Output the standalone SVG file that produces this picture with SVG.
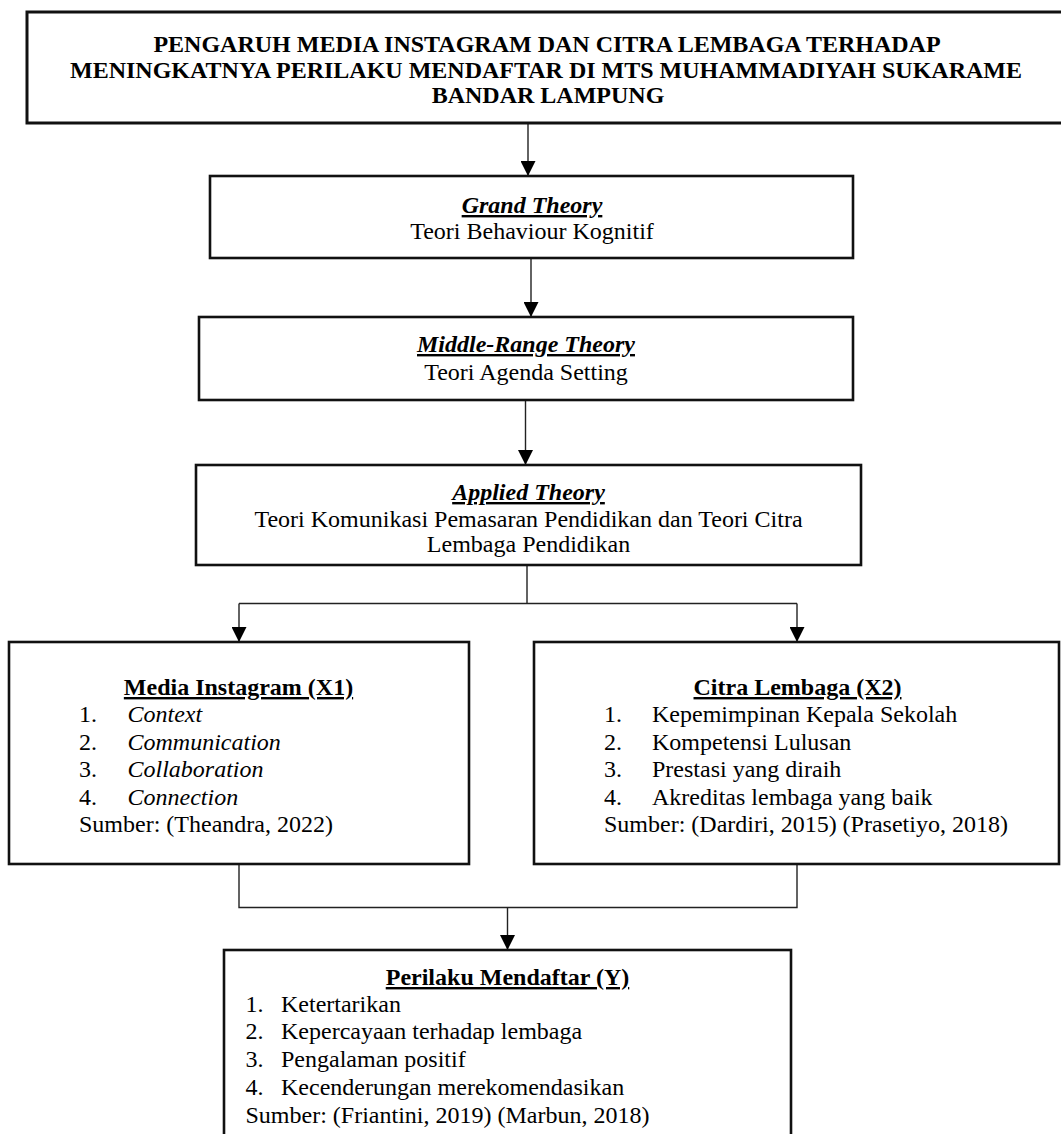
<svg xmlns="http://www.w3.org/2000/svg" width="1061" height="1134" viewBox="0 0 1061 1134">
<style>
.box{fill:#fff;stroke:#111;stroke-width:2.6}
.conn{fill:none;stroke:#222;stroke-width:1.4}
text{font-family:"Liberation Serif","Times New Roman",serif;font-size:24px;fill:#000}
.title{font-weight:bold;text-anchor:middle}
.head{font-weight:bold;font-style:italic;text-decoration:underline;text-anchor:middle}
.vhead{font-weight:bold;text-decoration:underline;text-anchor:middle}
.mid{text-anchor:middle}
.it{font-style:italic}
</style>
<defs>
<marker id="arr" markerUnits="userSpaceOnUse" markerWidth="15" markerHeight="15" refX="15" refY="7.5" orient="auto">
<path d="M0,0 L15,7.5 L0,15 z" fill="#000"/>
</marker>
</defs>
<rect width="1061" height="1134" fill="#fff"/>
<g id="connectors">
<path class="conn" d="M528,123 V176" marker-end="url(#arr)"/>
<path class="conn" d="M531,258 V317" marker-end="url(#arr)"/>
<path class="conn" d="M525.5,400 V465" marker-end="url(#arr)"/>
<path class="conn" d="M527,565 V603.5 M239,603.5 H797"/>
<path class="conn" d="M239,603.5 V642" marker-end="url(#arr)"/>
<path class="conn" d="M797,603.5 V642" marker-end="url(#arr)"/>
<path class="conn" d="M239,864 V907.5 H797 V864"/>
<path class="conn" d="M507.5,907.5 V950" marker-end="url(#arr)"/>
</g>
<g id="node-title">
<rect class="box" x="27" y="12" width="1045" height="111" style="stroke-width:3"/>
<text class="title" x="547" y="52">PENGARUH MEDIA INSTAGRAM DAN CITRA LEMBAGA TERHADAP</text>
<text class="title" x="546" y="77.5">MENINGKATNYA PERILAKU MENDAFTAR DI MTS MUHAMMADIYAH SUKARAME</text>
<text class="title" x="548" y="103">BANDAR LAMPUNG</text>
</g>
<g id="node-grand">
<rect class="box" x="210" y="176" width="643" height="82"/>
<text class="head" x="532" y="213">Grand Theory</text>
<text class="mid" x="532" y="239">Teori Behaviour Kognitif</text>
</g>
<g id="node-middle">
<rect class="box" x="199" y="317" width="654" height="83"/>
<text class="head" x="526" y="352">Middle-Range Theory</text>
<text class="mid" x="526" y="380">Teori Agenda Setting</text>
</g>
<g id="node-applied">
<rect class="box" x="196" y="465" width="665" height="100"/>
<text class="head" x="528.5" y="500">Applied Theory</text>
<text class="mid" x="528.5" y="526.5">Teori Komunikasi Pemasaran Pendidikan dan Teori Citra</text>
<text class="mid" x="528.5" y="552">Lembaga Pendidikan</text>
</g>
<g id="node-x1">
<rect class="box" x="9" y="642" width="460" height="222"/>
<text class="vhead" x="238.5" y="695">Media Instagram (X1)</text>
<text x="79" y="722">1.</text><text class="it" x="127.5" y="722">Context</text>
<text x="79" y="749.5">2.</text><text class="it" x="127.5" y="749.5">Communication</text>
<text x="79" y="777">3.</text><text class="it" x="127.5" y="777">Collaboration</text>
<text x="79" y="804.5">4.</text><text class="it" x="127.5" y="804.5">Connection</text>
<text x="79" y="832">Sumber: (Theandra, 2022)</text>
</g>
<g id="node-x2">
<rect class="box" x="534" y="642" width="525" height="222"/>
<text class="vhead" x="797.5" y="695">Citra Lembaga (X2)</text>
<text x="604" y="722">1.</text><text x="652" y="722">Kepemimpinan Kepala Sekolah</text>
<text x="604" y="749.5">2.</text><text x="652" y="749.5">Kompetensi Lulusan</text>
<text x="604" y="777">3.</text><text x="652" y="777">Prestasi yang diraih</text>
<text x="604" y="804.5">4.</text><text x="652" y="804.5">Akreditas lembaga yang baik</text>
<text x="604" y="832">Sumber: (Dardiri, 2015) (Prasetiyo, 2018)</text>
</g>
<g id="node-y">
<rect class="box" x="224" y="950" width="567" height="200"/>
<text class="vhead" x="507.5" y="985">Perilaku Mendaftar (Y)</text>
<text x="245.5" y="1011.5">1.</text><text x="281" y="1011.5">Ketertarikan</text>
<text x="245.5" y="1039">2.</text><text x="281" y="1039">Kepercayaan terhadap lembaga</text>
<text x="245.5" y="1067">3.</text><text x="281" y="1067">Pengalaman positif</text>
<text x="245.5" y="1095">4.</text><text x="281" y="1095">Kecenderungan merekomendasikan</text>
<text x="245.5" y="1123">Sumber: (Friantini, 2019) (Marbun, 2018)</text>
</g>
</svg>
